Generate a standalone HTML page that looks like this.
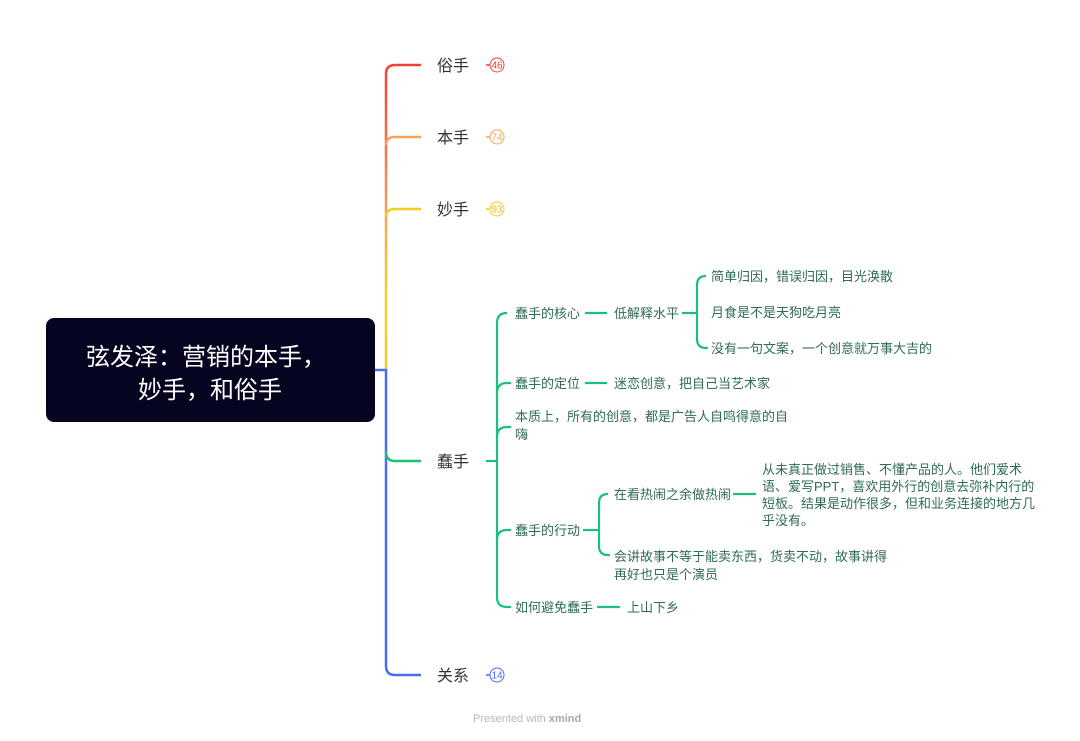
<!DOCTYPE html>
<html><head><meta charset="utf-8"><style>
html,body{margin:0;padding:0;background:#fff;}
svg{display:block;}
text{font-family:"Liberation Sans","Noto Sans CJK SC",sans-serif;}
.m{font-size:16px;fill:#333;}
.s{font-size:13px;fill:#2f6b55;}
.g{stroke:#1cbf7c;stroke-width:2.2;fill:none;}
</style></head><body>
<svg width="1080" height="741" viewBox="0 0 1080 741" xmlns="http://www.w3.org/2000/svg">
<defs>
<linearGradient id="sp" x1="0" y1="65" x2="0" y2="370" gradientUnits="userSpaceOnUse">
<stop offset="0" stop-color="#f2413a"/><stop offset="0.25" stop-color="#f66e4a"/>
<stop offset="0.5" stop-color="#f7a35a"/><stop offset="0.55" stop-color="#f7b04a"/>
<stop offset="0.75" stop-color="#f5cf2e"/><stop offset="1" stop-color="#f3cd22"/>
</linearGradient>
</defs>
<rect x="46" y="318" width="329" height="104" rx="8" fill="#05051f"/>
<text x="206" y="365" font-size="24" fill="#fff" text-anchor="middle">弦发泽：营销的本手，</text>
<text x="210" y="398" font-size="24" fill="#fff" text-anchor="middle">妙手，和俗手</text>
<path d="M421 65 H395 Q386 65 386 74 V370" stroke="url(#sp)" stroke-width="2.5" fill="none"/>
<path d="M386 145 Q386 137 395 137 H421" stroke="#f7a35a" stroke-width="2.5" fill="none"/>
<path d="M386 217 Q386 209 395 209 H421" stroke="#f4cd24" stroke-width="2.5" fill="none"/>
<path d="M375 370 H386 V666 Q386 675 395 675 H421" stroke="#4a6cf7" stroke-width="2.5" fill="none"/>
<path d="M386 452 Q386 461 395 461 H421" stroke="#1cbf7c" stroke-width="2.5" fill="none"/>
<text class="m" x="437" y="71">俗手</text>
<text class="m" x="437" y="143">本手</text>
<text class="m" x="437" y="215">妙手</text>
<text class="m" x="437" y="467">蠢手</text>
<text class="m" x="437" y="681">关系</text>
<g font-size="10" text-anchor="middle">
<line x1="486" y1="65" x2="490" y2="65" stroke="#f2413a" stroke-width="1.5"/><circle cx="497" cy="65" r="7" fill="#fff" stroke="#f2413a"/><text x="497" y="68.5" fill="#f2413a">46</text>
<line x1="486" y1="137" x2="490" y2="137" stroke="#f7a35a" stroke-width="1.5"/><circle cx="497" cy="137" r="7" fill="#fff" stroke="#f7a35a"/><text x="497" y="140.5" fill="#f7a35a">74</text>
<line x1="486" y1="209" x2="490" y2="209" stroke="#f4cd24" stroke-width="1.5"/><circle cx="497" cy="209" r="7" fill="#fff" stroke="#f4cd24"/><text x="497" y="212.5" fill="#e6be10">93</text>
<line x1="486" y1="675" x2="490" y2="675" stroke="#4a6cf7" stroke-width="1.5"/><circle cx="497" cy="675" r="7" fill="#fff" stroke="#4a6cf7"/><text x="497" y="678.5" fill="#4a6cf7">14</text>
</g>
<path class="g" d="M486 461 H497"/>
<path class="g" d="M507 313 Q497 313 497 323 V597 Q497 607 507 607 H511"/>
<path class="g" d="M497 393 Q497 383 507 383 H511"/>
<path class="g" d="M497 437 Q497 427 507 427 H511"/>
<path class="g" d="M497 540 Q497 530 507 530 H511"/>
<text class="s" x="515" y="318">蠢手的核心</text>
<path class="g" d="M585 313 H607"/>
<text class="s" x="614" y="318">低解释水平</text>
<path class="g" d="M682 313 H697"/>
<path class="g" d="M706 276 Q697 276 697 285 V339 Q697 348 706 348 H708"/>
<text class="s" x="711" y="281">简单归因，错误归因，目光涣散</text>
<text class="s" x="711" y="317">月食是不是天狗吃月亮</text>
<text class="s" x="711" y="353">没有一句文案，一个创意就万事大吉的</text>
<text class="s" x="515" y="388">蠢手的定位</text>
<path class="g" d="M585 383 H607"/>
<text class="s" x="614" y="388">迷恋创意，把自己当艺术家</text>
<text class="s" x="515" y="421">本质上，所有的创意，都是广告人自鸣得意的自</text>
<text class="s" x="515" y="439">嗨</text>
<text class="s" x="515" y="535">蠢手的行动</text>
<path class="g" d="M583 530 H599"/>
<path class="g" d="M608 494 Q599 494 599 503 V546 Q599 555 608 555 H610"/>
<text class="s" x="614" y="499">在看热闹之余做热闹</text>
<path class="g" d="M733 494 H756"/>
<text class="s" x="762" y="474">从未真正做过销售、不懂产品的人。他们爱术</text>
<text class="s" x="762" y="491">语、爱写PPT，喜欢用外行的创意去弥补内行的</text>
<text class="s" x="762" y="508">短板。结果是动作很多，但和业务连接的地方几</text>
<text class="s" x="762" y="525">乎没有。</text>
<text class="s" x="614" y="561">会讲故事不等于能卖东西，货卖不动，故事讲得</text>
<text class="s" x="614" y="579">再好也只是个演员</text>
<text class="s" x="515" y="612">如何避免蠢手</text>
<path class="g" d="M597 607 H620"/>
<text class="s" x="627" y="612">上山下乡</text>
<text x="473" y="722" font-size="11" fill="#b8b8b8">Presented with <tspan font-weight="bold" fill="#a8a8a8">xmind</tspan></text>
</svg>
</body></html>
